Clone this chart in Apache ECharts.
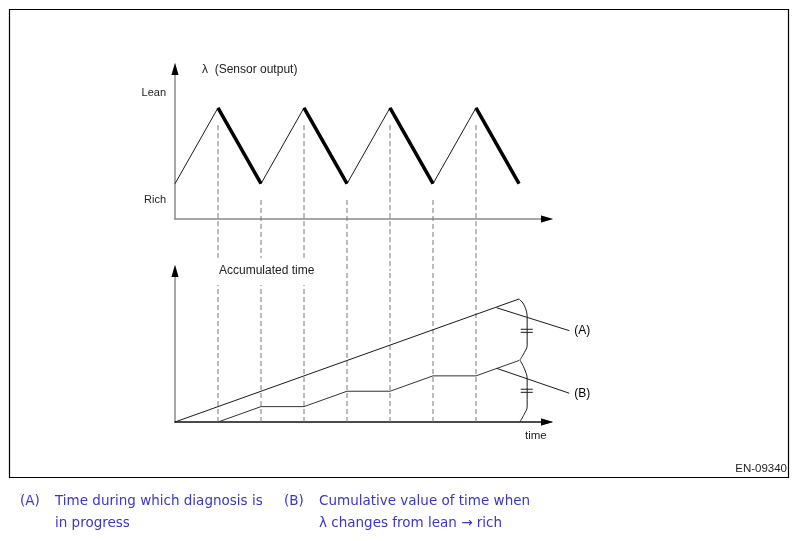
<!DOCTYPE html>
<html>
<head>
<meta charset="utf-8">
<script src="https://cdn.jsdelivr.net/npm/echarts@6/dist/echarts.min.js"></script>
<style>
html,body{margin:0;padding:0;background:#fff;}
#chart{width:799px;height:541px;}
</style>
</head>
<body>
<div id="chart"></div>
<script>
// ---- data (time in half-cycle units) ----
const waveTimes = [0, 1, 2, 3, 4, 5, 6, 7, 8];
const waveLevels = [1, 3.15, 1, 3.15, 1, 3.15, 1, 3.15, 1];
const levelLabels = ['Rich', 'Lean'];
const levelLabelValues = [0.54, 3.58];

const eventTimes = [1, 2, 3, 4, 5, 6, 7];
const dashTopStart = [2.66, 0.54, 2.66, 0.54, 2.66, 0.54, 2.66];
const dashTopEnd = [-1.1, -1.1, -1.1, -1.47, -1.47, -1.47, -1.47];
const dashBottomEnd = [8.91, 8.91, 8.91, 9.82, 9.82, 9.82, 9.82];

const accTimes = [0, 8];
const accValues = [0, 8];
const cumTimes = [1, 2, 3, 4, 5, 6, 7, 8];
const cumValues = [0, 1, 1, 2, 2, 3, 3, 4];

const braceUpperT = [8, 8.12, 8.19, 8.19, 8.12, 8.02];
const braceUpperY = [8, 7.6, 6.8, 5.0, 4.5, 4.03];
const braceLowerT = [8.02, 8.12, 8.19, 8.19, 8.12, 8.02];
const braceLowerY = [4.03, 3.5, 2.8, 1.0, 0.5, 0];
const equalT = [8.04, 8.32];
const equalY = [6.03, 5.83, 2.13, 1.93];

const leaderNames = ['(A)', '(B)'];
const leaderStartT = [7.48, 7.48];
const leaderStartY = [7.43, 3.49];
const leaderEndT = [9.17, 9.17];
const leaderEndY = [5.94, 1.87];

const topYMax = 4.25, topXMax = 8.651, botYMax = 9.82, noteXMax = 10;

// ---- build ----
const zip = (a, b) => a.map((v, i) => [v, b[i]]);
const waveData = zip(waveTimes, waveLevels);
const thickData = [];
for (let i = 1; i < waveTimes.length; i++) {
  if (waveLevels[i] < waveLevels[i - 1]) {
    thickData.push([waveTimes[i - 1], waveLevels[i - 1]], [waveTimes[i], waveLevels[i]], [waveTimes[i], null]);
  }
}
const dashTop = [], dashBot = [];
eventTimes.forEach((t, i) => {
  dashTop.push([t, dashTopStart[i]], [t, dashTopEnd[i]], [t, null]);
  dashBot.push([t, 0], [t, dashBottomEnd[i]], [t, null]);
});
const equalData = [];
equalY.forEach(y => { equalData.push([equalT[0], y], [equalT[1], y], [equalT[1], null]); });
const leaderData = [];
leaderNames.forEach((n, i) => {
  leaderData.push([leaderStartT[i], leaderStartY[i]], [leaderEndT[i], leaderEndY[i]], [leaderEndT[i], null]);
});

const ink = '#1a1a1a';
const dashStyle = { color: '#7a7a7a', width: 1, type: [5, 3] };
const baseLine = (extra) => Object.assign({
  type: 'line', symbol: 'none', showSymbol: false, silent: true, animation: false,
  connectNulls: false, clip: false
}, extra);
const sans = '"Liberation Sans", Arial, sans-serif';

const series = [
  baseLine({ xAxisIndex: 0, yAxisIndex: 0, data: dashTop, lineStyle: dashStyle }),
  baseLine({ xAxisIndex: 1, yAxisIndex: 1, data: dashBot, lineStyle: dashStyle }),
  baseLine({ xAxisIndex: 0, yAxisIndex: 0, data: waveData, lineStyle: { color: ink, width: 1 } }),
  baseLine({ xAxisIndex: 0, yAxisIndex: 0, data: thickData, lineStyle: { color: '#000', width: 3.5 } }),
  baseLine({ xAxisIndex: 1, yAxisIndex: 1, data: zip(accTimes, accValues), lineStyle: { color: ink, width: 1 } }),
  baseLine({ xAxisIndex: 1, yAxisIndex: 1, data: zip(cumTimes, cumValues), lineStyle: { color: '#333', width: 1 } }),
  baseLine({ xAxisIndex: 4, yAxisIndex: 4, data: zip(braceUpperT, braceUpperY), smooth: 0.4, lineStyle: { color: ink, width: 1 } }),
  baseLine({ xAxisIndex: 4, yAxisIndex: 4, data: zip(braceLowerT, braceLowerY), smooth: 0.4, lineStyle: { color: ink, width: 1 } }),
  baseLine({ xAxisIndex: 4, yAxisIndex: 4, data: equalData, lineStyle: { color: ink, width: 1 } }),
  baseLine({ xAxisIndex: 4, yAxisIndex: 4, data: leaderData, lineStyle: { color: ink, width: 1 } }),
  {
    type: 'scatter', xAxisIndex: 4, yAxisIndex: 4, silent: true, animation: false, clip: false,
    symbol: 'circle', symbolSize: 0.01, itemStyle: { color: '#000', opacity: 1 },
    data: leaderNames.map((n, i) => ({ value: [leaderEndT[i], leaderEndY[i]], name: n })),
    label: { show: true, position: 'right', distance: 5, formatter: (p) => p.name, fontFamily: sans, fontSize: 12, color: '#000', opacity: 1, textBorderWidth: 0 }
  }
];

const grayLine = { color: '#8a8a8a', width: 1.5 };
const arrowOnly = { color: '#000', width: 0 };
const mkX = (grid, style, z) => ({ gridIndex: grid, type: 'value', position: 'bottom', min: 0, max: topXMax, z: z,
  axisLine: { show: true, onZero: false, symbol: ['none', 'triangle'], symbolSize: [7, 12], lineStyle: style },
  axisTick: { show: false }, axisLabel: { show: false }, splitLine: { show: false } });
const mkY = (grid, max, style, z, label) => ({ gridIndex: grid, type: 'value', position: 'left', min: 0, max: max, z: z,
  axisLine: { show: true, onZero: false, symbol: ['none', 'triangle'], symbolSize: [7, 12], lineStyle: style },
  axisTick: { show: false }, splitLine: { show: false }, axisLabel: label || { show: false } });
const hidden = (grid, max) => ({ gridIndex: grid, type: 'value', min: 0, max: max, show: false,
  axisLine: { show: false }, axisTick: { show: false }, axisLabel: { show: false }, splitLine: { show: false } });

const option = {
  backgroundColor: '#fff',
  animation: false,
  grid: [
    { left: 175, top: 69, width: 372, height: 150 },
    { left: 175, top: 271, width: 372, height: 151 },
    { left: 175, top: 271, width: 430, height: 151 }  // annotation layer, same scale as grid 1 (43 px per unit)
  ],
  xAxis: [
    mkX(0, grayLine, 2),
    mkX(1, { color: '#111', width: 1.5 }, 2),
    mkX(0, arrowOnly, 5),
    mkX(1, arrowOnly, 5),
    hidden(2, noteXMax)
  ],
  yAxis: [
    mkY(0, topYMax, grayLine, 2, {
      show: true, margin: 9, customValues: levelLabelValues, fontFamily: sans, fontSize: 11, color: '#222',
      formatter: (v) => { const k = levelLabelValues.findIndex(x => Math.abs(x - v) < 1e-6); return k >= 0 ? levelLabels[k] : ''; }
    }),
    mkY(1, botYMax, grayLine, 2),
    mkY(0, topYMax, arrowOnly, 5),
    mkY(1, botYMax, arrowOnly, 5),
    hidden(2, botYMax)
  ],
  series: series,
  graphic: [
    { type: 'rect', silent: true, shape: { x: 9.5, y: 9.5, width: 779, height: 468 }, style: { fill: 'none', stroke: '#000', lineWidth: 1.2 } },
    { type: 'text', x: 202, y: 70, style: { text: 'λ  (Sensor output)', font: '12px ' + sans, fill: '#222', align: 'left', verticalAlign: 'middle' } },
    { type: 'text', x: 219, y: 271, style: { text: 'Accumulated time', font: '12px ' + sans, fill: '#222', align: 'left', verticalAlign: 'middle' } },
    { type: 'text', x: 525, y: 436, style: { text: 'time', font: '11.5px ' + sans, fill: '#222', align: 'left', verticalAlign: 'middle' } },
    { type: 'text', x: 787, y: 469, style: { text: 'EN-09340', font: '11.5px ' + sans, fill: '#222', align: 'right', verticalAlign: 'middle' } },
    { type: 'text', x: 20, y: 501, style: { text: '(A)', font: '13.5px "DejaVu Sans", sans-serif', fill: '#3a36c8', align: 'left', verticalAlign: 'middle' } },
    { type: 'text', x: 55, y: 501, style: { text: 'Time during which diagnosis is', font: '13.5px "DejaVu Sans", sans-serif', fill: '#3a36c8', align: 'left', verticalAlign: 'middle' } },
    { type: 'text', x: 55, y: 523, style: { text: 'in progress', font: '13.5px "DejaVu Sans", sans-serif', fill: '#3a36c8', align: 'left', verticalAlign: 'middle' } },
    { type: 'text', x: 284, y: 501, style: { text: '(B)', font: '13.5px "DejaVu Sans", sans-serif', fill: '#3a36c8', align: 'left', verticalAlign: 'middle' } },
    { type: 'text', x: 319, y: 501, style: { text: 'Cumulative value of time when', font: '13.5px "DejaVu Sans", sans-serif', fill: '#3a36c8', align: 'left', verticalAlign: 'middle' } },
    { type: 'text', x: 319, y: 523, style: { text: 'λ changes from lean → rich', font: '13.5px "DejaVu Sans", sans-serif', fill: '#3a36c8', align: 'left', verticalAlign: 'middle' } }
  ]
};
const chart = echarts.init(document.getElementById('chart'), null, { renderer: 'canvas' });
chart.setOption(option);
</script>
</body>
</html>
